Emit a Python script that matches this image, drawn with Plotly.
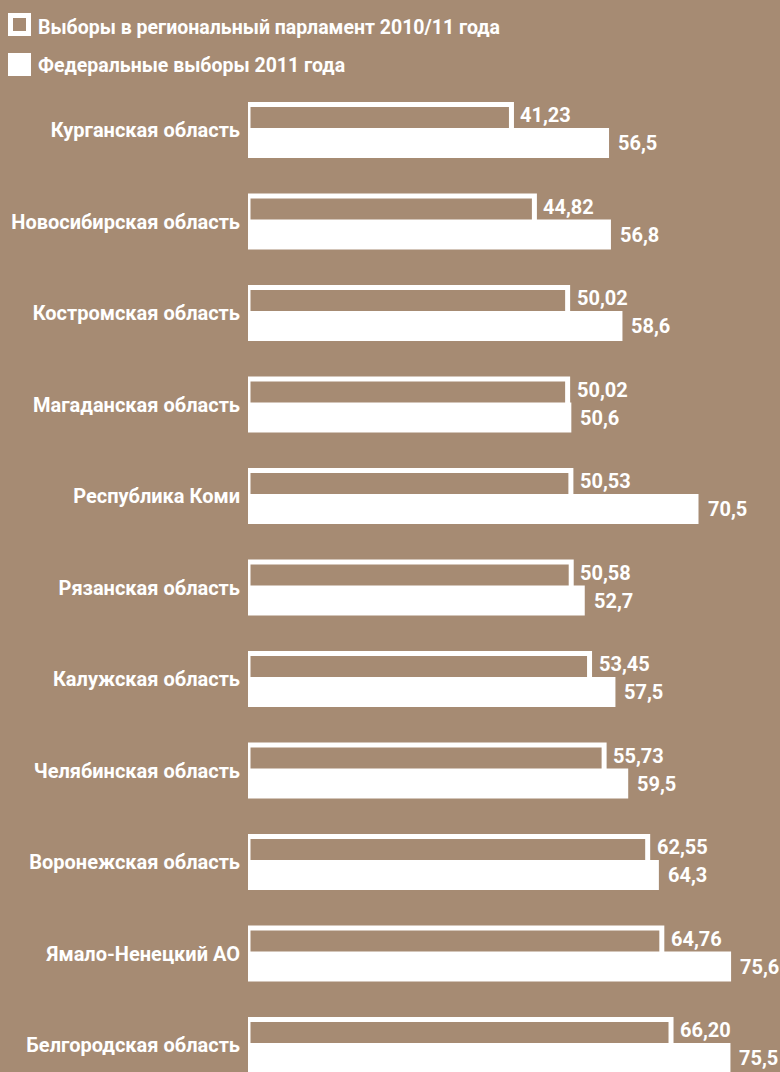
import plotly.graph_objects as go

regions = [
    "Курганская область",
    "Новосибирская область",
    "Костромская область",
    "Магаданская область",
    "Республика Коми",
    "Рязанская область",
    "Калужская область",
    "Челябинская область",
    "Воронежская область",
    "Ямало-Ненецкий АО",
    "Белгородская область",
]
regional = [41.23, 44.82, 50.02, 50.02, 50.53, 50.58, 53.45, 55.73, 62.55, 64.76, 66.20]
federal = [56.5, 56.8, 58.6, 50.6, 70.5, 52.7, 57.5, 59.5, 64.3, 75.6, 75.5]
regional_labels = ["41,23", "44,82", "50,02", "50,02", "50,53", "50,58",
                   "53,45", "55,73", "62,55", "64,76", "66,20"]
federal_labels = ["56,5", "56,8", "58,6", "50,6", "70,5", "52,7",
                  "57,5", "59,5", "64,3", "75,6", "75,5"]
legend_names = ["Выборы в региональный парламент 2010/11 года",
                "Федеральные выборы 2011 года"]

BG = "#A68B73"
WHITE = "#FFFFFF"
FONT = "Roboto"

W, H = 780, 1072
L = 248
X_MAX = (W - L) / 6.39
ROW = 91.5          # pixels per category
FIRST = 130         # pixel centre of first category
Y_TOP = -FIRST / ROW
Y_BOT = (H - FIRST) / ROW

idx = list(range(len(regions)))

fig = go.Figure()
fig.add_trace(go.Bar(
    orientation="h", y=idx, x=regional, base=0,
    offset=-25.5 / ROW, width=28.0 / ROW,
    marker=dict(color=BG, line=dict(color=WHITE, width=5)),
    name=legend_names[0], hoverinfo="skip",
))
fig.add_trace(go.Bar(
    orientation="h", y=idx, x=federal, base=0,
    offset=-2.0 / ROW, width=30.0 / ROW,
    marker=dict(color=WHITE, line=dict(width=0)),
    name=legend_names[1], hoverinfo="skip",
))

lab_font = dict(family=FONT, size=20, color=WHITE, weight=700)
val_font = dict(family=FONT, size=20, color=WHITE, weight=700)
for i, (v, t) in enumerate(zip(regional, regional_labels)):
    fig.add_annotation(x=v, y=i - 15 / ROW, xref="x", yref="y", text=t,
                       showarrow=False, xanchor="left", yanchor="middle",
                       xshift=7, font=val_font)
for i, (v, t) in enumerate(zip(federal, federal_labels)):
    fig.add_annotation(x=v, y=i + 13 / ROW, xref="x", yref="y", text=t,
                       showarrow=False, xanchor="left", yanchor="middle",
                       xshift=7, font=val_font)

# manual legend (pixel positions converted to paper coords)
def px(xp):
    return (xp - L) / (W - L)

def py(yp):
    return 1 - yp / H

fig.add_shape(type="rect", xref="paper", yref="paper",
              x0=px(10.5), x1=px(28.5), y0=py(15.5), y1=py(33.5),
              fillcolor=BG, line=dict(color=WHITE, width=5))
fig.add_shape(type="rect", xref="paper", yref="paper",
              x0=px(8), x1=px(31), y0=py(53), y1=py(76),
              fillcolor=WHITE, line=dict(width=0))
leg_font = dict(family=FONT, size=19.5, color=WHITE, weight=700)
fig.add_annotation(x=px(36), y=py(27), xref="paper", yref="paper",
                   text=legend_names[0], showarrow=False,
                   xanchor="left", yanchor="middle", font=leg_font)
fig.add_annotation(x=px(36), y=py(66), xref="paper", yref="paper",
                   text=legend_names[1], showarrow=False,
                   xanchor="left", yanchor="middle", font=leg_font)

fig.update_layout(
    width=W, height=H,
    margin=dict(l=L, r=0, t=0, b=0),
    paper_bgcolor=BG, plot_bgcolor=BG,
    barmode="overlay", showlegend=False,
    hovermode=False,
    xaxis=dict(range=[0, X_MAX], visible=False, fixedrange=True),
    yaxis=dict(range=[Y_BOT, Y_TOP], tickvals=idx, ticktext=regions,
               tickfont=lab_font, showgrid=False, zeroline=False,
               showline=False, ticks="", ticklabelstandoff=7,
               fixedrange=True),
)

fig.write_html(
    "out.html",
    config={"displayModeBar": False},
    post_script="document.body.style.margin='0';document.body.style.background='" + BG + "';",
)
